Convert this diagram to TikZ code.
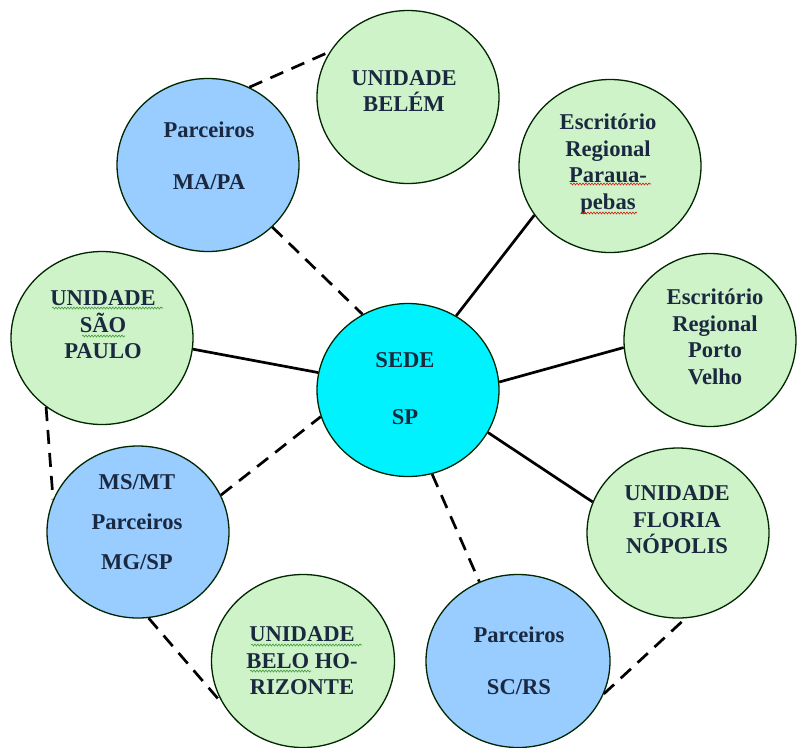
\documentclass[tikz,border=0pt]{standalone}
\usepackage{fontspec}
\setmainfont{Liberation Serif}
\usetikzlibrary{shapes.geometric,decorations.pathmorphing}
\definecolor{pgreen}{HTML}{CFF3C8}
\definecolor{pblue}{HTML}{99CCFF}
\definecolor{pcyan}{HTML}{00F2FF}
\definecolor{navy}{HTML}{1B2940}
\definecolor{sqgreen}{HTML}{3E9A3A}
\definecolor{sqred}{HTML}{D02020}
\begin{document}
\begin{tikzpicture}[x=1pt,y=-1pt,
  bubble/.style={ellipse, draw=black!85!green, line width=1.3pt, inner sep=0pt,
     minimum width=182pt, minimum height=173pt},
  unit/.style={bubble, fill=pgreen},
  partner/.style={bubble, fill=pblue},
  hq/.style={bubble, fill=pcyan},
  txt/.style={font=\fontsize{22.6}{26.5}\selectfont\bfseries, text=navy, align=center, inner sep=0pt},
  solidlink/.style={draw=black, line width=2.7pt},
  dashlink/.style={draw=black, line width=2.7pt, dash pattern=on 14pt off 9pt},
  squiggle/.style={line width=0.6pt, decorate, decoration={snake, amplitude=1pt, segment length=3pt}}
  ]
\useasboundingbox[fill=white] (0,0) rectangle (797,747);

% circles
\node[unit]    (belem)  at (408,97)  {};
\node[partner] (mapa)   at (208,165) {};
\node[unit]    (paraua) at (610,166) {};
\node[unit]    (sampa)  at (102,338) {};
\node[hq]      (sede)   at (408,390) {};
\node[unit, minimum width=172pt] (porto) at (710,340) {};
\node[unit, minimum height=170pt]    (floria) at (678,533) {};
\node[partner, minimum height=172pt] (mgsp)   at (138,532) {};
\node[unit, minimum width=183pt]     (bh)     at (303,661) {};
\node[partner, minimum width=184pt]  (scrs)   at (518,661) {};

% texts
\node[txt] (tbelem)  at (404,91)  {UNIDADE\\BELÉM};
\node[txt] (tmapa)   at (209,156) {Parceiros\\[25.5pt]MA/PA};
\node[txt] (tparaua) at (608,164) {Escritório\\Regional\\Paraua-\\pebas};
\node[txt] (tsampa)  at (103,325) {UNIDADE\\SÃO\\PAULO};
\node[txt] (tsede)   at (405,389) {SEDE\\[30.5pt]SP};
\node[txt] (tporto)  at (715,337) {Escritório\\Regional\\Porto\\Velho};
\node[txt] (tfloria) at (677,520) {UNIDADE\\FLORIA\\NÓPOLIS};
\node[txt] (tmgsp)   at (137,522) {MS/MT\\[13.5pt]Parceiros\\[13.5pt]MG/SP};
\node[txt] (tbh)     at (302,661) {UNIDADE\\BELO HO-\\RIZONTE};
\node[txt] (tscrs)   at (519,661) {Parceiros\\[25.5pt]SC/RS};

% spell-check squiggles
\draw[squiggle, sqgreen] (52,308) -- (163,308);
\draw[squiggle, sqgreen] (82,336) -- (125,336);
\draw[squiggle, sqgreen] (251,645) -- (362,645);
\draw[squiggle, sqgreen] (250,671) -- (311,671);
\draw[squiggle, sqred] (570,184) -- (651,184);
\draw[squiggle, sqred] (581,213) -- (637,213);

% solid connectors
\draw[solidlink] (sede.57)  -- (paraua.213);
\draw[solidlink] (sede.5)   -- (porto.185);
\draw[solidlink] (sede.-28) -- (floria.160);
\draw[solidlink] (sede.169) -- (sampa.-7);

% dashed connectors
\draw[dashlink] (mapa.62)   -- (belem.150);
\draw[dashlink] (mapa.-44)  -- (sede.121);
\draw[dashlink] (sampa.231) -- (mgsp.159);
\draw[dashlink] (mgsp.24)   -- (sede.197);
\draw[dashlink] (sede.-74)  -- (scrs.116);
\draw[dashlink] (mgsp.-83)  -- (bh.209);
\draw[dashlink] (scrs.-21)  -- (floria.-85);
\end{tikzpicture}
\end{document}
